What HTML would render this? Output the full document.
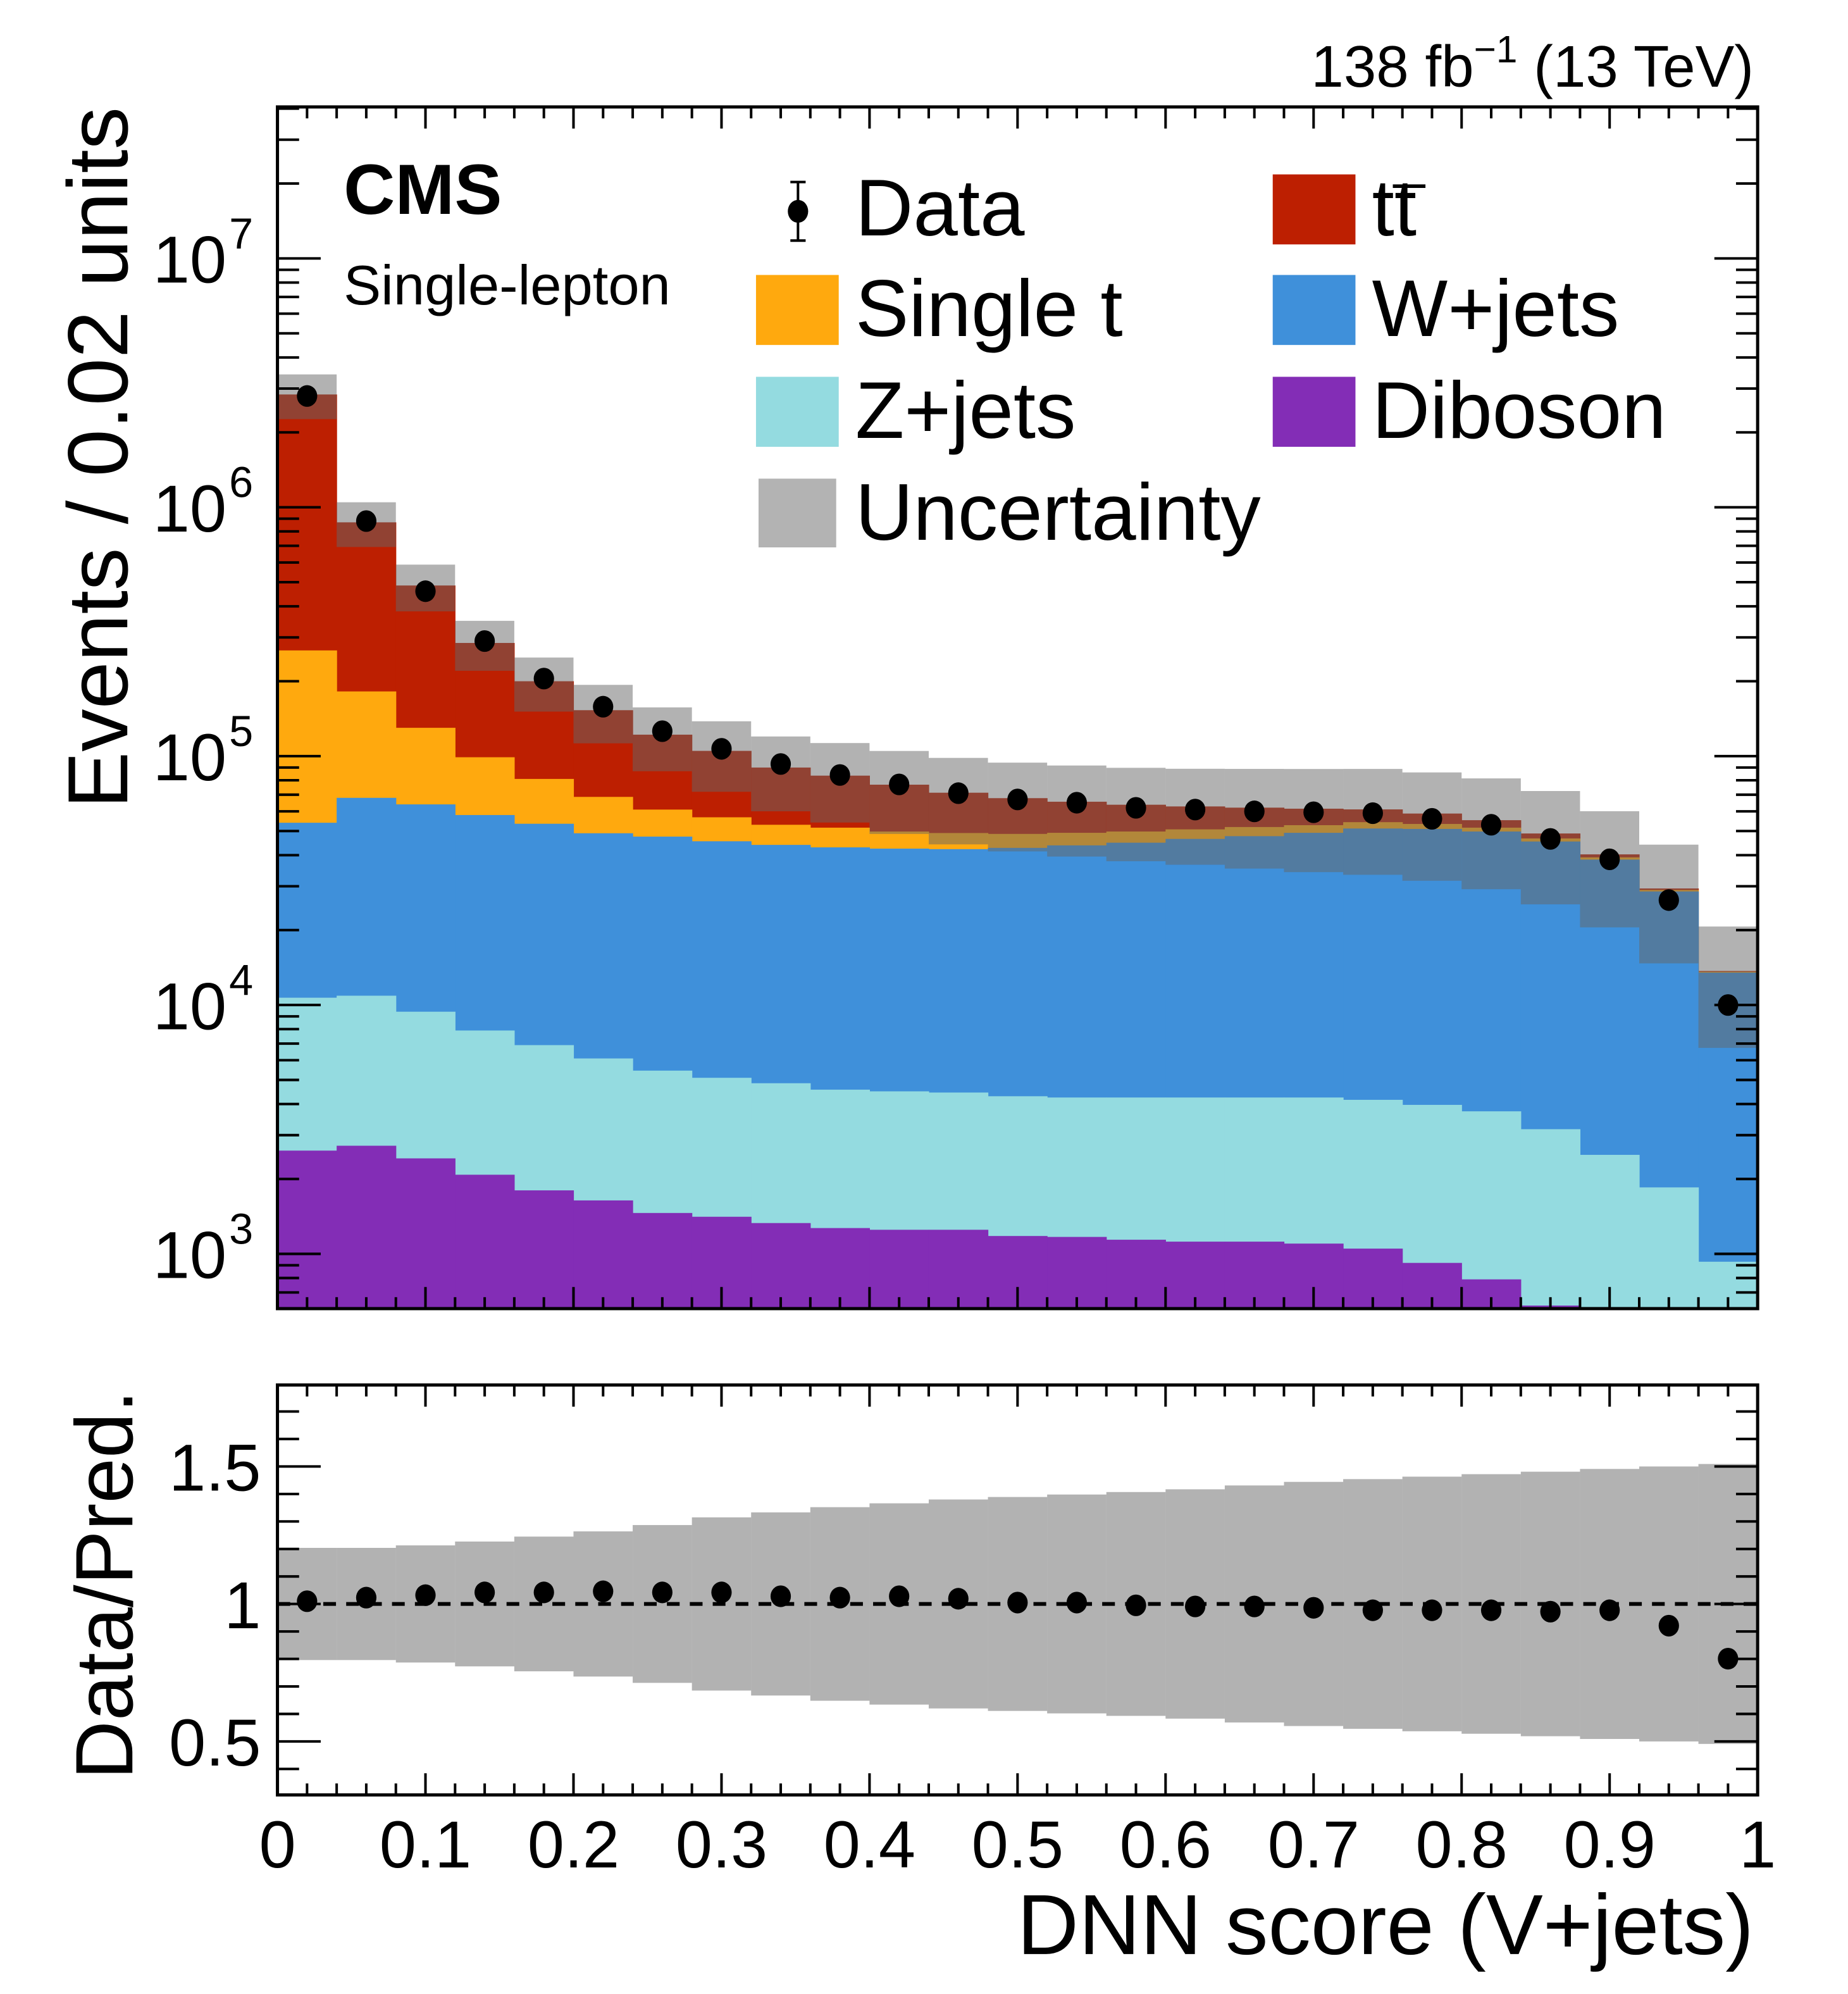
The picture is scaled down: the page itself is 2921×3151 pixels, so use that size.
<!DOCTYPE html>
<html><head><meta charset="utf-8"><style>html,body{margin:0;padding:0;background:#fff}svg{display:block}text{font-family:"Liberation Sans",sans-serif}</style></head>
<body>
<svg id="chart" width="2921" height="3151" viewBox="0 0 1452 1566.4" preserveAspectRatio="none" xmlns="http://www.w3.org/2000/svg">
<g id="topg"></g>
<g id="botg"></g>
<g id="txt">
<text x="1378" y="68" font-size="46" text-anchor="end">138 fb<tspan font-size="30" dy="-19">−1</tspan><tspan dy="19"> (13 TeV)</tspan></text>
<text x="270" y="168" font-size="56" font-weight="bold">CMS</text>
<text x="270" y="239" font-size="44">Single-lepton</text>
<text transform="translate(100,84) rotate(-90)" font-size="67" text-anchor="end">Events / 0.02 units</text>
<text transform="translate(104,1092) rotate(-90)" font-size="64" text-anchor="end">Data/Pred.</text>
<text x="1378" y="1535" font-size="67" text-anchor="end">DNN score (V+jets)</text>
</g>
<g id="legend">
<g><line x1="627" y1="143" x2="627" y2="189" stroke="#000" stroke-width="2"/><line x1="621" y1="143" x2="633" y2="143" stroke="#000" stroke-width="2"/><line x1="621" y1="189" x2="633" y2="189" stroke="#000" stroke-width="2"/><ellipse cx="627" cy="166" rx="8" ry="9"/><text x="672" y="185" font-size="63">Data</text></g>
<g><rect x="1000" y="137" width="65" height="55" fill="#bd1f01"/><text x="1078" y="185" font-size="63">tt<tspan dx="-18" dy="-46" font-size="44">_</tspan></text></g>
<g><rect x="594" y="216" width="65" height="55" fill="#ffa90e"/><text x="672" y="264" font-size="63">Single t</text></g>
<g><rect x="1000" y="216" width="65" height="55" fill="#3f90da"/><text x="1078" y="264" font-size="63">W+jets</text></g>
<g><rect x="594" y="296" width="65" height="55" fill="#94dbe0"/><text x="672" y="344" font-size="63">Z+jets</text></g>
<g><rect x="1000" y="296" width="65" height="55" fill="#832db6"/><text x="1078" y="344" font-size="63">Diboson</text></g>
<g><rect x="596" y="376" width="61" height="54" fill="#b3b3b3"/><text x="672" y="424" font-size="63">Uncertainty</text></g>
</g>
</svg>
<script>
// cumulative stack tops per bin (events)
const dibosonTop=[2600,2720,2420,2080,1800,1640,1460,1410,1330,1270,1250,1250,1180,1170,1140,1120,1120,1100,1050,920,790,620,500,400,400];
const zjetsTop=[10700,10900,9400,7900,6900,6100,5450,5100,4850,4570,4500,4450,4300,4250,4250,4250,4250,4250,4160,3970,3740,3170,2500,1850,930];
const wjetsTop=[54000,68000,64000,58000,53500,49000,47500,45500,44000,43000,42500,42300,42800,43800,44900,46500,47700,49200,51200,51000,49800,45400,38400,28600,13500];
const singletTop=[266000,182000,130000,99000,81000,68600,61000,56800,53000,51600,49800,49100,48700,49200,49800,50800,51900,52800,54300,53400,51600,46700,39200,29000,13600];
const ttbarTop=[2840000,870000,485000,285000,200000,153000,122000,105000,90000,83500,76800,71300,67800,65600,63800,62800,62100,61500,61100,58800,55300,48900,40300,29400,13700];
const dataVals=[2.8e6,8.8e5,4.6e5,2.9e5,2.05e5,1.58e5,1.26e5,1.07e5,9.3e4,8.4e4,7.7e4,7.1e4,6.7e4,6.5e4,6.2e4,6.1e4,6.0e4,5.95e4,5.9e4,5.6e4,5.3e4,4.65e4,3.85e4,2.64e4,1.0e4];
const relUnc=[0.204,0.204,0.213,0.227,0.245,0.264,0.287,0.315,0.333,0.352,0.366,0.380,0.389,0.398,0.407,0.417,0.431,0.444,0.454,0.463,0.472,0.481,0.491,0.500,0.509];
const ratioVals=[1.01,1.023,1.032,1.042,1.042,1.046,1.042,1.042,1.028,1.023,1.028,1.019,1.005,1.005,0.995,0.991,0.991,0.986,0.977,0.977,0.977,0.972,0.977,0.921,0.801];
const xTickLabels=["0","0.1","0.2","0.3","0.4","0.5","0.6","0.7","0.8","0.9","1"];
const yExps=[3,4,5,6,7];
const ratioTickLabels=["0.5","1","1.5"];

const NS="http://www.w3.org/2000/svg";
const X0=218,X1=1381,T0=84,T1=1028,B0=1088,B1=1410;
const nb=dataVals.length;
const sx=v=>X0+(X1-X0)*v;
const sy=v=>985-(Math.log10(v)-3)*195.5;
const ry=v=>1260-(v-1)*216;
function mk(p,tag,a){const e=document.createElementNS(NS,tag);for(const k in a)e.setAttribute(k,a[k]);p.appendChild(e);return e;}
const topG=document.getElementById('topg'),botG=document.getElementById('botg');
const defs=mk(topG,'defs',{});
const cp=mk(defs,'clipPath',{id:'ct'});mk(cp,'rect',{x:X0,y:T0,width:X1-X0,height:T1-T0});
const cp2=mk(defs,'clipPath',{id:'cb'});mk(cp2,'rect',{x:X0,y:B0,width:X1-X0,height:B1-B0});
const gS=mk(topG,'g',{'clip-path':'url(#ct)'});


const layers=[[ttbarTop,'#bd1f01','ttbar'],[singletTop,'#ffa90e','single-t'],[wjetsTop,'#3f90da','wjets'],[zjetsTop,'#94dbe0','zjets'],[dibosonTop,'#832db6','diboson']];
const w=1/nb;
for(const [arr,col,nm] of layers){
  for(let i=0;i<nb;i++){
    const y=sy(arr[i]);
    const r=mk(gS,'rect',{x:sx(i*w),y:y,width:sx((i+1)*w)-sx(i*w)+0.3,height:Math.max(0,T1+5-y),fill:col});
    
    
  }
}
for(let i=0;i<nb;i++){
  const t=ttbarTop[i],u=relUnc[i];
  const y1=sy(t*(1+u)),y2=sy(t*(1-u));
  const r=mk(gS,'rect',{x:sx(i*w),y:y1,width:sx((i+1)*w)-sx(i*w),height:y2-y1,fill:'#666',opacity:0.5});
  
  
}
function frame(g,y0,y1){mk(g,'rect',{x:X0,y:y0,width:X1-X0,height:y1-y0,fill:'none',stroke:'#000','stroke-width':2.5});}
function xticks(g,y0,y1){
  for(let k=0;k<=50;k++){const x=sx(k/50),L=(k%5==0)?17:9;
    mk(g,'line',{x1:x,y1:y1,x2:x,y2:y1-L,stroke:'#000','stroke-width':2});
    mk(g,'line',{x1:x,y1:y0,x2:x,y2:y0+L,stroke:'#000','stroke-width':2});}
}
const gT=mk(topG,'g',{});


for(let e=2;e<=7;e++){for(let m=1;m<=9;m++){const v=m*Math.pow(10,e),y=sy(v);if(y<T0||y>T1)continue;const L=m==1?34:17;
  mk(gT,'line',{x1:X0,y1:y,x2:X0+L,y2:y,stroke:'#000','stroke-width':2});
  mk(gT,'line',{x1:X1,y1:y,x2:X1-L,y2:y,stroke:'#000','stroke-width':2});}}
yExps.forEach(e=>{const t=mk(gT,'text',{x:178,y:sy(Math.pow(10,e))+19,'font-size':52,'text-anchor':'end'});t.textContent='10';
  const s=mk(gT,'text',{x:180,y:sy(Math.pow(10,e))-8,'font-size':34});s.textContent=String(e);});
xticks(topG,T0,T1);
const gD=mk(topG,'g',{});


for(let i=0;i<nb;i++){const c=mk(gD,'ellipse',{cx:sx((i+0.5)*w),cy:sy(dataVals[i]),rx:8,ry:8.5,fill:'#000'});
  
  }
frame(topG,T0,T1);
const gR=mk(botG,'g',{'clip-path':'url(#cb)'});
for(let i=0;i<nb;i++){const u=relUnc[i];const r=mk(gR,'rect',{x:sx(i*w),y:ry(1+u),width:sx((i+1)*w)-sx(i*w),height:ry(1-u)-ry(1+u),fill:'#666',opacity:0.5});
  
  }
for(let k=3;k<=17;k++){const v=k/10,y=ry(v);if(y<B0||y>B1)continue;const L=(k%5==0)?34:17;
  mk(botG,'line',{x1:X0,y1:y,x2:X0+L,y2:y,stroke:'#000','stroke-width':2});
  mk(botG,'line',{x1:X1,y1:y,x2:X1-L,y2:y,stroke:'#000','stroke-width':2});}
ratioTickLabels.forEach(s=>{const t=mk(botG,'text',{x:205,y:ry(parseFloat(s))+19,'font-size':52,'text-anchor':'end'});t.textContent=s;
  
  });
xticks(botG,B0,B1);
mk(botG,'line',{x1:X0,y1:ry(1),x2:X1,y2:ry(1),stroke:'#000','stroke-width':3,'stroke-dasharray':'10 8'});
for(let i=0;i<nb;i++){const c=mk(botG,'ellipse',{cx:sx((i+0.5)*w),cy:ry(ratioVals[i]),rx:8,ry:8.5,fill:'#000'});
  
  }
frame(botG,B0,B1);
xTickLabels.forEach((s,k)=>{const t=mk(botG,'text',{x:sx(k/10),y:1467,'font-size':52,'text-anchor':'middle'});t.textContent=s;
  
  });
</script>
</body></html>
